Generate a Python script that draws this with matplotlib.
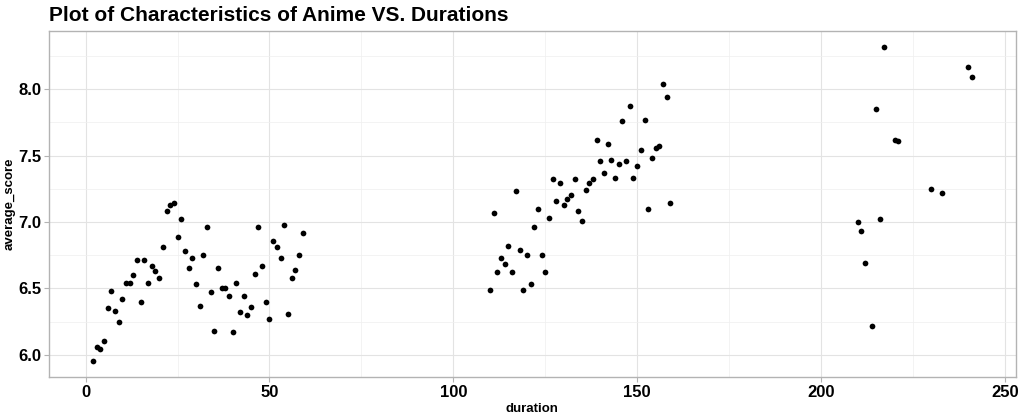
import numpy as np
import matplotlib.pyplot as plt
from matplotlib.ticker import MultipleLocator

plt.rcParams['font.family'] = ['Liberation Sans', 'DejaVu Sans']

# durations and average scores
duration = [2, 3, 4, 5, 6, 7, 8, 9, 10, 11, 12, 13, 14, 15, 16, 17, 18, 19, 20,
            21, 22, 23, 24, 25, 26, 27, 28, 29, 30, 31, 32, 33, 34, 35, 36, 37,
            38, 39, 40, 41, 42, 43, 44, 45, 46, 47, 48, 49, 50, 51, 52, 53, 54,
            55, 56, 57, 58, 59,
            110, 111, 112, 113, 114, 115, 116, 117, 118, 119, 120, 121, 122,
            123, 124, 125, 126, 127, 128, 129, 130, 131, 132, 133, 134, 135,
            136, 137, 138, 139, 140, 141, 142, 143, 144, 145, 146, 147, 148,
            149, 150, 151, 152, 153, 154, 155, 156, 157, 158, 159,
            210, 211, 212, 214, 215, 216, 217, 220, 221, 230, 233, 240, 241]
average_score = [5.95, 6.06, 6.04, 6.10, 6.35, 6.48, 6.33, 6.25, 6.42, 6.54,
                 6.54, 6.60, 6.71, 6.40, 6.71, 6.54, 6.67, 6.63, 6.58, 6.81,
                 7.08, 7.13, 7.14, 6.89, 7.02, 6.78, 6.65, 6.73, 6.53, 6.37,
                 6.75, 6.96, 6.47, 6.18, 6.65, 6.50, 6.50, 6.44, 6.17, 6.54,
                 6.32, 6.44, 6.30, 6.36, 6.61, 6.96, 6.67, 6.40, 6.27, 6.86,
                 6.81, 6.73, 6.98, 6.31, 6.58, 6.64, 6.75, 6.92,
                 6.49, 7.07, 6.62, 6.73, 6.68, 6.82, 6.62, 7.23, 6.79, 6.49,
                 6.75, 6.53, 6.96, 7.10, 6.75, 6.62, 7.03, 7.32, 7.16, 7.29,
                 7.13, 7.17, 7.20, 7.32, 7.08, 7.01, 7.24, 7.29, 7.32, 7.62,
                 7.46, 7.37, 7.59, 7.47, 7.33, 7.44, 7.76, 7.46, 7.87, 7.33,
                 7.42, 7.54, 7.77, 7.10, 7.48, 7.56, 7.57, 8.04, 7.94, 7.14,
                 7.00, 6.93, 6.69, 6.22, 7.85, 7.02, 8.32, 7.62, 7.61, 7.25,
                 7.22, 8.17, 8.09]

x = np.array(duration)
y = np.array(average_score)

fig = plt.figure(figsize=(10.24, 4.19), dpi=100)
ax = fig.add_axes([0.0479, 0.100, 0.944, 0.826])

ax.scatter(x, y, s=17, color='black', zorder=3, linewidths=0)

# ggplot-like 5% expansion
xr = x.max() - x.min()
yr = y.max() - y.min()
ax.set_xlim(x.min() - 0.05 * xr, x.max() + 0.05 * xr)
ax.set_ylim(y.min() - 0.05 * yr, y.max() + 0.05 * yr)

ax.xaxis.set_major_locator(MultipleLocator(50))
ax.xaxis.set_minor_locator(MultipleLocator(25))
ax.yaxis.set_major_locator(MultipleLocator(0.5))
ax.yaxis.set_minor_locator(MultipleLocator(0.25))
ax.yaxis.set_major_formatter(plt.FormatStrFormatter('%.1f'))

ax.grid(which='major', color='#e3e3e3', linewidth=0.8, zorder=0)
ax.grid(which='minor', color='#efefef', linewidth=0.5, zorder=0)
ax.set_axisbelow(True)

for sp in ax.spines.values():
    sp.set_color('#b3b3b3')
    sp.set_linewidth(1.0)

ax.tick_params(which='major', length=3.5, width=0.8, color='#b3b3b3',
               labelsize=12, pad=2)
ax.tick_params(which='minor', length=0)
for lab in ax.get_xticklabels() + ax.get_yticklabels():
    lab.set_fontweight('bold')

ax.set_xlabel('duration', fontsize=9.5, fontweight='bold', labelpad=2)
ax.set_ylabel('average_score', fontsize=9.5, fontweight='bold', labelpad=2)
ax.set_title('Plot of Characteristics of Anime VS. Durations', loc='left',
             fontsize=15, fontweight='bold', pad=7)

fig.savefig('out.png', dpi=100)
